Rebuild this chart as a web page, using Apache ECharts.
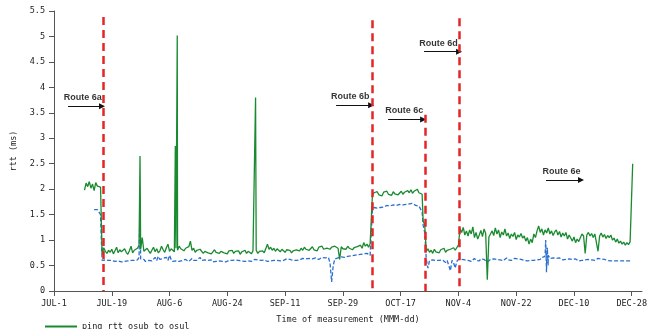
<!DOCTYPE html>
<html><head><meta charset="utf-8">
<script src="https://cdn.jsdelivr.net/npm/echarts@6/dist/echarts.min.js"></script>
<style>html,body{margin:0;padding:0;background:#fff}#c{width:659px;height:329px}</style>
</head><body><div id="c"></div>
<script>
// ---- data (x = days since JUL-1, y = rtt in ms) ----
const STEP = 0.5;
const xTickDays = [0, 18, 36, 54, 72, 90, 108, 126, 144, 162, 180];
const xTickLabels = ['JUL-1','JUL-19','AUG-6','AUG-24','SEP-11','SEP-29','OCT-17','NOV-4','NOV-22','DEC-10','DEC-28'];

const greenName = 'ping rtt osub to osul';
const blueName = 'ping rtt osul to osub';

// green series: [start day, values every STEP days]
const greenSegments = [
  [9.5,  [1.98,2.12,2.05,2.15,2.02,2.1,1.97,2.13,2.06,2.08,2.04]],
  [15,   [0.72,0.85,0.78,0.74,0.8,0.76,0.82,0.73,0.79,0.86,0.75,0.81,0.77,0.74,0.83,0.76,0.72,0.79,0.88,0.75]],
  [25,   [0.8,0.77,0.84,0.9,0.82,1.05,0.78,0.76,0.84,0.79,0.74,0.8,0.86,0.77,0.83,0.75,0.79,0.88,0.81,0.76]],
  [35,   [0.85,0.92,0.78,0.83,0.8,0.77,0.84,0.8,0.88,0.83,0.86,0.79,0.84,0.81,0.87,0.98,0.8,0.84,0.76,0.8]],
  [45,   [0.77,0.82,0.79,0.74,0.78,0.8,0.75,0.78,0.73,0.77,0.81,0.76,0.79,0.74,0.78,0.8,0.75,0.77,0.73,0.79]],
  [55,   [0.76,0.8,0.74,0.78,0.75,0.79,0.72,0.77,0.76,0.8,0.74,0.78,0.75,0.73,0.79,0.77,0.8,0.74,0.78,0.76]],
  [65,   [0.79,0.75,0.78,0.92,0.82,0.86,0.8,0.84,0.78,0.83,0.8,0.77,0.82,0.79,0.76,0.81,0.78,0.8,0.75,0.79]],
  [75,   [0.78,0.81,0.83,0.79,0.84,0.8,0.86,0.82,0.85,0.8,0.83,0.87,0.81,0.84,0.79,0.86,0.83,0.88,0.82,0.85]],
  [85,   [0.84,0.87,0.82,0.86,0.83,0.88,0.85,0.84,0.62,0.87,0.83,0.86,0.82,0.88,0.84,0.86,0.81,0.85,0.83,0.87]],
  [95,   [0.85,0.9,0.84,0.95,0.88,0.92,0.86,0.93,0.9]],
  [99.2, [1.88,1.93,1.9,1.95,1.89,1.92,1.87,1.94,1.91,1.96,1.9,1.93,1.88,1.95,1.91,1.94,1.89,1.92,1.96,1.9]],
  [109.2,[1.94,1.91,1.97,1.93,1.99,1.92,1.96,1.94,2.0,1.93,1.95,1.9]],
  [115,  [1.38,1.3,0.78,0.83,0.76,0.8,0.74,0.82,0.77,0.79,0.75,0.81,0.78,0.84,0.76,0.8,0.77,0.82,0.79,0.85,0.8,0.83,0.9]],
  [126.5,[1.22,1.15,1.25,1.1,1.18,1.08,1.2,1.12,1.26,1.05,1.15,1.02,1.1,1.19,1.07,1.22,1.13,0.22,1.06,1.12]],
  [136.5,[1.18,1.09,1.24,1.12,1.2,1.05,1.16,1.1,1.22,1.08,1.14,1.03,1.12,1.07,1.15,1.01,1.1,1.06,1.13,1.04]],
  [146.5,[1.08,0.98,1.05,0.92,1.02,0.95,1.12,1.05,1.18,1.28,1.15,1.22,1.1,1.2,1.14,1.24,1.12,1.18,1.09,1.16]],
  [156.5,[1.2,1.1,1.17,1.06,1.14,1.08,1.15,1.02,1.1,1.04,0.98,1.06,0.95,1.02,0.97,1.05,1.12,1.08,0.74,1.1]],
  [166.5,[1.15,1.08,1.13,1.05,1.12,1.1,0.78,1.08,1.14,1.06,1.11,1.03,1.09,1.05,1.1,1.0,1.04,0.96,1.02,0.94]],
  [176.5,[0.98,0.92,0.96,0.9,0.95,0.91,0.97,1.0]]
];
const greenSpikes = [[26.8,2.65],[37.8,2.85],[38.15,0.84],[38.4,5.02],[62.8,3.8],[180.3,2.5]];

// blue series
const blueSegments = [
  [12.5, [1.6,1.59,1.6,1.57,1.5]],
  [15,   [0.6,0.58,0.61,0.59,0.6,0.57,0.6,0.62,0.58,0.6,0.59,0.61,0.57,0.6,0.58,0.6,0.59,0.62,0.6,0.58]],
  [25,   [0.6,0.62,0.61,0.66,0.63,0.6,0.62,0.58,0.61,0.6,0.63,0.59,0.62,0.66,0.6,0.68,0.62,0.59,0.64,0.61]],
  [35,   [0.66,0.6,0.7,0.62,0.58,0.61,0.59,0.6,0.58,0.61,0.6,0.59,0.62,0.6,0.58,0.61,0.64,0.6,0.58,0.6]],
  [45,   [0.62,0.66,0.6,0.59,0.61,0.58,0.6,0.59,0.61,0.57,0.6,0.58,0.6,0.59,0.61,0.58,0.6,0.57,0.59,0.6]],
  [55,   [0.58,0.6,0.59,0.61,0.58,0.6,0.62,0.59,0.6,0.58,0.61,0.59,0.6,0.58,0.6,0.62,0.59,0.61,0.58,0.6]],
  [65,   [0.59,0.61,0.6,0.58,0.6,0.59,0.61,0.6,0.62,0.6,0.61,0.59,0.62,0.6,0.61,0.63,0.6,0.62,0.61,0.6]],
  [75,   [0.62,0.6,0.63,0.61,0.62,0.64,0.61,0.63,0.62,0.64,0.61,0.63,0.62,0.65,0.63,0.62,0.64,0.66,0.63,0.65]],
  [85,   [0.64,0.66,0.55,0.18,0.5,0.63,0.62,0.65,0.63,0.67,0.64,0.66,0.65,0.68,0.66,0.69,0.67,0.7,0.68,0.71]],
  [95,   [0.7,0.72,0.69,0.73,0.71,0.74,0.72,0.7,0.73]],
  [99.2, [1.6,1.64,1.65,1.63,1.66,1.64,1.67,1.65,1.66,1.68,1.66,1.67,1.65,1.69,1.67,1.68,1.66,1.7,1.68,1.69]],
  [109.2,[1.72,1.7,1.73,1.71,1.69,1.72,1.7,1.68,1.7,1.67,1.65,1.55]],
  [115,  [1.3,1.15,0.62,0.45,0.6,0.58,0.61,0.59,0.6,0.57,0.6,0.58,0.61,0.59,0.56,0.6,0.58,0.4,0.6,0.55,0.45,0.58,0.62]],
  [126.5,[0.6,0.62,0.59,0.61,0.63,0.6,0.62,0.58,0.61,0.64,0.6,0.62,0.59,0.63,0.6,0.62,0.61,0.57,0.6,0.62]],
  [136.5,[0.61,0.63,0.6,0.62,0.64,0.61,0.63,0.6,0.62,0.65,0.61,0.63,0.6,0.62,0.64,0.61,0.63,0.6,0.62,0.61]],
  [146.5,[0.6,0.62,0.59,0.61,0.6,0.62,0.6,0.63,0.61,0.64,0.62,0.66,0.63,0.68,0.65,0.7,0.64,0.62,0.65,0.63]],
  [156.5,[0.64,0.62,0.65,0.63,0.61,0.64,0.62,0.6,0.63,0.61,0.62,0.6,0.63,0.61,0.59,0.62,0.6,0.58,0.61,0.63]],
  [166.5,[0.62,0.64,0.61,0.63,0.6,0.62,0.64,0.61,0.63,0.6,0.62,0.59,0.6,0.58,0.59,0.58,0.59,0.58,0.59,0.58]],
  [176.5,[0.59,0.58,0.59,0.58,0.59,0.58,0.59,0.59]]
];
const blueSpikes = [[14.75,1.0],[26.8,1.7],[153.2,1.0],[153.45,0.37],[153.7,0.85],[153.95,0.5]];

// route change markers
const routeLineDays = [15.36, 99.0, 115.7, 126.3];
const routeLineTops = [5.38, 5.32, 3.46, 5.36];
const routeNames = ['Route 6a','Route 6b','Route 6c','Route 6d','Route 6e'];
const routeTextPos = [[8.95,3.80],[92.3,3.82],[109.1,3.54],[119.8,4.87],[158.1,2.34]];
const routeArrows = [[4.36,14.96,3.63],[87.9,98.8,3.65],[104.1,115.0,3.37],[115.3,126.2,4.70],[153.3,164.2,2.18]];

function build(segs, spikes){
  const out = [];
  segs.forEach(([s, vals]) => vals.forEach((v, i) => out.push([s + i*STEP, v])));
  spikes.forEach(p => out.push(p));
  out.sort((a,b) => a[0]-b[0]);
  return out;
}

const mono = 'DejaVu Sans Mono';
const chart = echarts.init(document.getElementById('c'), null, {renderer:'canvas'});
chart.setOption({
  animation: false,
  backgroundColor: '#fff',
  grid: {left: 54, right: 17, top: 11, bottom: 38, containLabel: false},
  legend: {
    data: [{name: greenName, icon: 'rect', itemStyle: {color: '#1a8a30'}}], left: 45, top: 322, padding: 0,
    itemWidth: 32, itemHeight: 2, itemGap: 4,
    textStyle: {fontFamily: mono, fontSize: 8.5, color: '#222'}
  },
  xAxis: {
    type: 'value', min: 0, max: 183.2, interval: 18,
    name: 'Time of measurement (MMM-dd)', nameLocation: 'middle', nameGap: 24,
    nameTextStyle: {fontFamily: mono, fontSize: 8.5, color: '#222'},
    axisLine: {lineStyle: {color: '#555', width: 1}},
    axisTick: {show: true, length: 5, customValues: xTickDays, lineStyle: {color: '#555'}},
    axisLabel: {customValues: xTickDays, fontFamily: mono, fontSize: 8.5, color: '#222', margin: 8,
      formatter: v => { const i = xTickDays.indexOf(Math.round(v)); return i >= 0 ? xTickLabels[i] : ''; }},
    splitLine: {show: false}
  },
  yAxis: {
    type: 'value', min: 0, max: 5.5, interval: 0.5,
    name: 'rtt (ms)', nameLocation: 'middle', nameGap: 33, nameRotate: 90,
    nameTextStyle: {fontFamily: mono, fontSize: 8.5, color: '#222'},
    axisLine: {show: true, lineStyle: {color: '#555', width: 1}},
    axisTick: {show: true, length: 5, lineStyle: {color: '#555'}},
    axisLabel: {fontFamily: mono, fontSize: 8.5, color: '#222', margin: 9},
    splitLine: {show: false}
  },
  series: [
    {
      name: greenName, type: 'line', data: build(greenSegments, greenSpikes), symbol: 'none',
      lineStyle: {color: '#1a8a30', width: 1.3}, itemStyle: {color: '#1a8a30'}, z: 3
    },
    {
      name: blueName, type: 'line', data: build(blueSegments, blueSpikes), symbol: 'none',
      lineStyle: {color: '#2a6fd0', width: 1.3, type: [4, 2]}, itemStyle: {color: '#2a6fd0'}, z: 2
    },
    {
      name: 'routes', type: 'scatter', symbolSize: 1, itemStyle: {color: 'rgba(0,0,0,0)'}, silent: true, z: 5,
      data: routeTextPos.map((p, i) => ({value: p, name: routeNames[i]})),
      label: {show: true, position: 'inside', formatter: p => p.name,
        fontFamily: 'Liberation Sans', fontWeight: 'bold', fontSize: 9, color: '#000'}
    },
    {
      name: 'arrows', type: 'line', data: [], silent: true, z: 5, color: '#111',
      itemStyle: {color: '#111'}, lineStyle: {color: '#111'},
      markLine: {
        silent: true, symbol: ['none', 'triangle'], symbolSize: 6, label: {show: false},
        lineStyle: {color: '#111', width: 1, type: 'solid'},
        data: routeArrows.map(a => [{coord: [a[0], a[2]]}, {coord: [a[1], a[2]]}])
      }
    },
    {
      name: 'changes', type: 'line', data: [], silent: true, z: 4,
      markLine: {
        silent: true, symbol: ['none', 'none'], label: {show: false},
        lineStyle: {color: '#e32626', width: 2.5, type: [8, 5]},
        data: routeLineDays.map((d, i) => [{coord: [d, routeLineTops[i]]}, {coord: [d, 0]}])
      }
    }
  ]
});
</script>
</body></html>
